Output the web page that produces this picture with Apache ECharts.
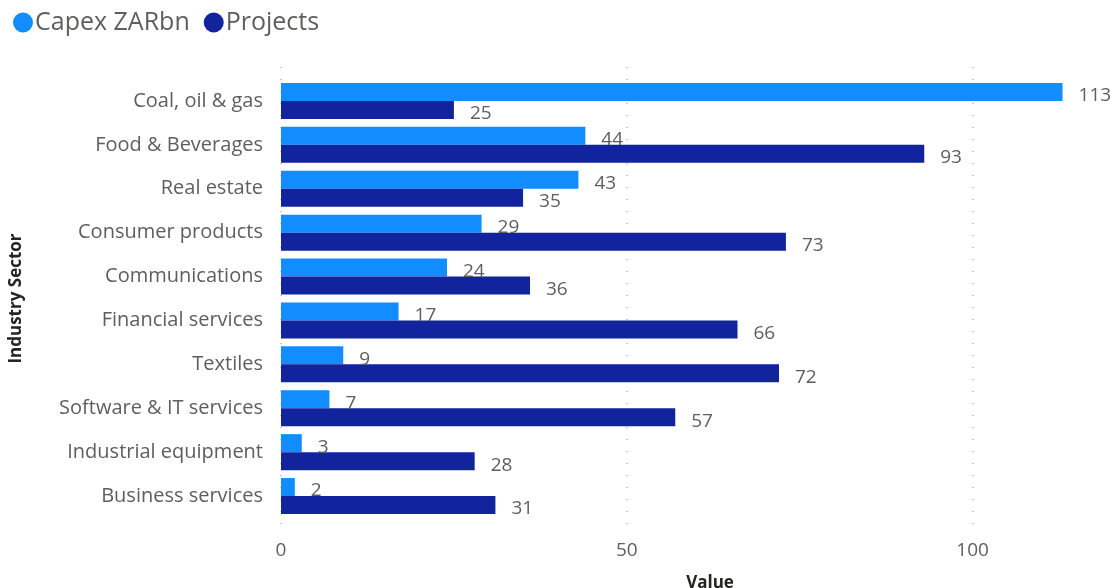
<!DOCTYPE html>
<html>
<head>
<meta charset="utf-8">
<style>
  html, body { margin: 0; padding: 0; background: #fff; }
  #chart { width: 1115px; height: 588px; }
</style>
<script src="https://cdn.jsdelivr.net/npm/echarts@6/dist/echarts.min.js"></script>
</head>
<body>
<div id="chart"></div>
<script>
// 行业类别（从上到下）
const sectors = [
  "Coal, oil & gas", "Food & Beverages", "Real estate", "Consumer products",
  "Communications", "Financial services", "Textiles", "Software & IT services",
  "Industrial equipment", "Business services"
];
// 投资额（十亿兰特）
const capex = [113, 44, 43, 29, 24, 17, 9, 7, 3, 2];
// 项目数
const projects = [25, 93, 35, 73, 36, 66, 72, 57, 28, 31];
// x轴刻度
const xTicks = [0, 50, 100];

const font = "'Segoe UI', 'Open Sans', 'Noto Sans', sans-serif";
const grey = "#605E5C";

const chart = echarts.init(document.getElementById("chart"));

const valueLabel = {
  show: true,
  position: "right",
  distance: 16,
  offset: [0, 4],
  color: grey,
  fontSize: 19,
  fontFamily: font
};

chart.setOption({
  animation: false,
  legend: {
    left: 8,
    top: 5,
    icon: "circle",
    itemWidth: 20,
    itemHeight: 20,
    itemGap: 14,
    textStyle: { fontSize: 25, color: grey, fontFamily: font, padding: [0, 0, 0, -3] },
    data: ["Capex ZARbn", "Projects"]
  },
  grid: [
    // 柱形区域
    { left: 281, right: 4, top: 79, bottom: 70, outerBoundsMode: "none" },
    // 只用于绘制网格线
    { left: 281, right: 4, top: 67, bottom: 57, outerBoundsMode: "none" }
  ],
  xAxis: [
    {
      gridIndex: 0,
      type: "value",
      min: 0,
      max: 120,
      interval: 50,
      name: "Value",
      nameLocation: "middle",
      nameGap: 57,
      nameTextStyle: { fontSize: 17, fontWeight: "bold", color: "#252423", fontFamily: font, padding: [0, 0, 0, 28] },
      axisLine: { show: false },
      axisTick: { show: false },
      splitLine: { show: false },
      axisLabel: {
        fontSize: 19,
        color: grey,
        fontFamily: font,
        margin: 23,
        formatter: (v) => (xTicks.includes(v) ? String(v) : "")
      }
    },
    {
      gridIndex: 1,
      type: "value",
      min: 0,
      max: 120,
      interval: 50,
      axisLine: { show: false },
      axisTick: { show: false },
      axisLabel: { show: false },
      splitLine: {
        show: true,
        showMaxLine: false,
        lineStyle: { type: [1, 11], color: "#C8C6C4", width: 2 }
      }
    }
  ],
  yAxis: [
    {
      gridIndex: 0,
      type: "category",
      inverse: true,
      data: sectors,
      name: "Industry Sector",
      nameLocation: "middle",
      nameGap: 256,
      nameRotate: 90,
      nameTextStyle: { fontSize: 17, fontWeight: "bold", color: "#252423", fontFamily: font },
      axisLine: { show: false },
      axisTick: { show: false },
      axisLabel: { fontSize: 20, color: grey, fontFamily: font, margin: 18 }
    },
    {
      gridIndex: 1,
      type: "category",
      data: sectors,
      show: false
    }
  ],
  series: [
    {
      name: "Capex ZARbn",
      type: "bar",
      xAxisIndex: 0,
      yAxisIndex: 0,
      data: capex,
      barWidth: 18,
      barGap: "0%",
      itemStyle: { color: "#118DFF" },
      label: valueLabel
    },
    {
      name: "Projects",
      type: "bar",
      xAxisIndex: 0,
      yAxisIndex: 0,
      data: projects,
      barWidth: 18,
      barGap: "0%",
      itemStyle: { color: "#12239E" },
      label: valueLabel
    }
  ]
});
</script>
</body>
</html>
